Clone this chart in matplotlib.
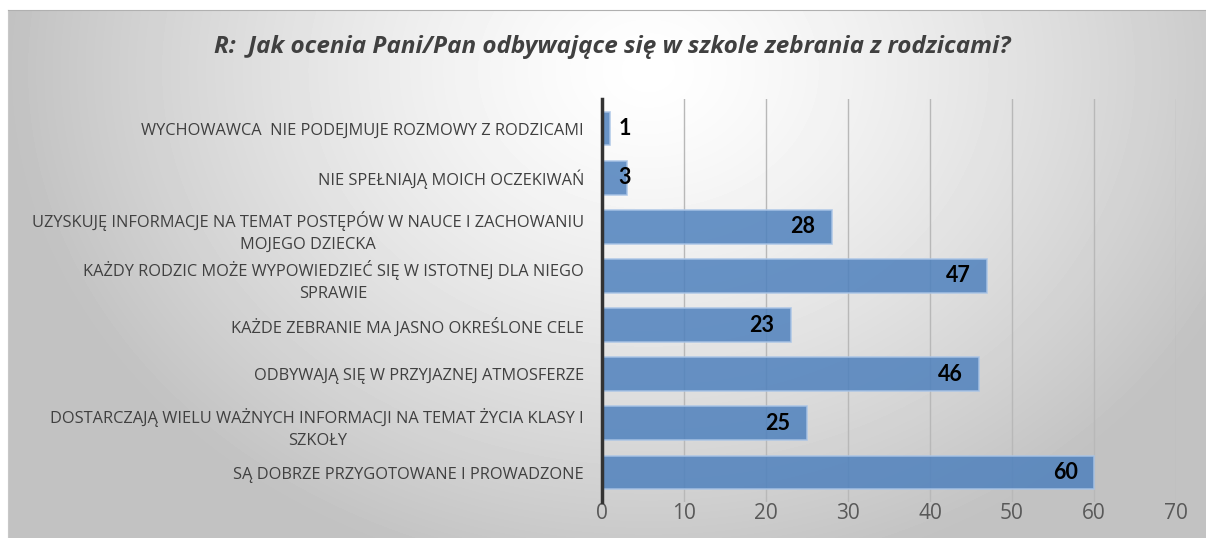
import numpy as np
import matplotlib
matplotlib.use('Agg')
import matplotlib.pyplot as plt

# Dane z wykresu (od góry do dołu)
kategorie = [
    'WYCHOWAWCA  NIE PODEJMUJE ROZMOWY Z RODZICAMI',
    'NIE SPEŁNIAJĄ MOICH OCZEKIWAŃ',
    'UZYSKUJĘ INFORMACJE NA TEMAT POSTĘPÓW W NAUCE I ZACHOWANIU\nMOJEGO DZIECKA',
    'KAŻDY RODZIC MOŻE WYPOWIEDZIEĆ SIĘ W ISTOTNEJ DLA NIEGO\nSPRAWIE',
    'KAŻDE ZEBRANIE MA JASNO OKREŚLONE CELE',
    'ODBYWAJĄ SIĘ W PRZYJAZNEJ ATMOSFERZE',
    'DOSTARCZAJĄ WIELU WAŻNYCH INFORMACJI NA TEMAT ŻYCIA KLASY I\nSZKOŁY',
    'SĄ DOBRZE PRZYGOTOWANE I PROWADZONE',
]
wartosci = [1, 3, 28, 47, 23, 46, 25, 60]
tytul = 'R:  Jak ocenia Pani/Pan odbywające się w szkole zebrania z rodzicami?'

W, H = 1206, 538
fig = plt.figure(figsize=(W / 100, H / 100), dpi=100)
fig.patch.set_facecolor('white')

# tło z gradientem
bg = fig.add_axes([8 / W, 0, 1 - 8 / W, 1 - 10 / H])
yy, xx = np.mgrid[0:528, 0:1198]
d = np.sqrt(((xx - 640) / 640.0) ** 2 + ((yy - 60) / 520.0) ** 2)
d = np.clip(d, 0, 1)
val = 1.0 - 0.24 * d ** 1.3
bg.imshow(val, cmap='gray', vmin=0, vmax=1, aspect='auto', interpolation='bilinear')
bg.set_xticks([])
bg.set_yticks([])
for s in bg.spines.values():
    s.set_visible(False)
bg.spines['top'].set_visible(True)
bg.spines['top'].set_color('#b0b0b0')
bg.spines['left'].set_visible(True)
bg.spines['left'].set_color('#c8c8c8')

ax = fig.add_axes([602 / W, 1 - 502 / H, (1176 - 602) / W, (502 - 99) / H])
ax.patch.set_alpha(0)

y = np.arange(len(kategorie))
ax.barh(y, wartosci, height=0.69, color='#4f81bd', alpha=0.85,
        edgecolor='#a9c4e6', linewidth=1.2, zorder=3)

for yi, v in zip(y, wartosci):
    if v > 10:
        ax.text(v - 2, yi, str(v), ha='right', va='center', fontsize=15.5,
                fontweight='bold', family='Lato', color='black', zorder=4)
    else:
        ax.text(2, yi, str(v), ha='left', va='center', fontsize=15.5,
                fontweight='bold', family='Lato', color='black', zorder=4)

ax.set_xlim(0, 70)
ax.set_ylim(7.6, -0.6)
ax.set_xticks(range(0, 71, 10))
ax.set_yticks(y)
ax.set_yticklabels(kategorie, fontsize=11.8, family='Open Sans', color='#404040',
                   multialignment='center', linespacing=1.5)
ax.tick_params(axis='y', length=0, pad=13)
ax.tick_params(axis='x', length=0, pad=1, labelsize=15, labelcolor='#595959')
for lbl in ax.get_xticklabels():
    lbl.set_family('Open Sans')

ax.grid(axis='x', color='#b8b8b8', linewidth=1, zorder=0)
for s in ['top', 'right', 'bottom']:
    ax.spines[s].set_visible(False)
ax.spines['left'].set_color('#333333')
ax.spines['left'].set_linewidth(2.5)
ax.spines['left'].set_zorder(5)

fig.text(612 / W, 1 - 47 / H, tytul, ha='center', va='center', fontsize=17.5,
         fontweight='bold', fontstyle='italic', family='Open Sans', color='#404040')

fig.savefig('out.png', dpi=100)
